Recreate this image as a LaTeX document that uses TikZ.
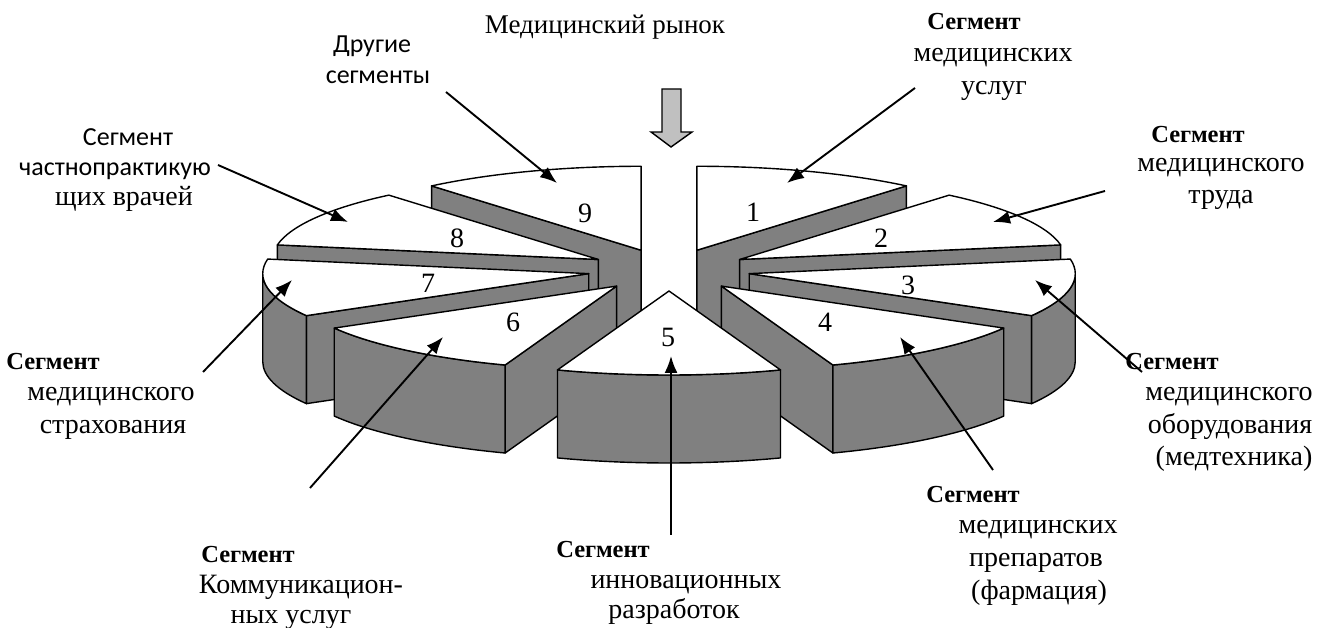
\documentclass[tikz,border=0pt]{standalone}
\usepackage{fontspec}
\setmainfont{Liberation Serif}
\newfontfamily\sansfam{Carlito}
\usetikzlibrary{arrows.meta,calc}
\definecolor{slabgrey}{HTML}{808080}
\definecolor{arrowgrey}{HTML}{C0C0C0}
\newcommand\setapex[3]{\pgfmathsetmacro\slabm{(#2+#3)/2}\coordinate (#1) at ($(C)+(\slabm:81.5pt and 21pt)$);}
\newcommand\radface[2]{\draw[sideface] (#1) -- ++(#2:326pt and 84pt) -- ++(0,-88) -- ($(#1)+(0,-88)$) -- cycle;}
\newcommand\outface[3]{\draw[sideface] ($(#1)+(#2:326pt and 84pt)$) arc[start angle=#2,end angle=#3,x radius=326pt,y radius=84pt] -- ++(0,-88) arc[start angle=#3,end angle=#2,x radius=326pt,y radius=84pt] -- cycle;}
\newcommand\topface[3]{\draw[topfc] (#1) -- ++(#2:326pt and 84pt) arc[start angle=#2,end angle=#3,x radius=326pt,y radius=84pt] -- cycle;}
\begin{document}
\begin{tikzpicture}[x=1pt,y=1pt,
  topfc/.style={fill=white,draw=black,line width=1.4pt,line join=round},
  sideface/.style={fill=slabgrey,draw=black,line width=1.4pt,line join=round},
  ptr/.style={-{Latex[length=17pt,width=13pt]},line width=1.9pt},
  txt/.style={font=\fontsize{28}{33}\selectfont,inner sep=0pt,anchor=base},
  ttxt/.style={font=\fontsize{27}{33}\selectfont,inner sep=0pt,anchor=base},
  btxt/.style={font=\fontsize{24.5}{33}\selectfont\bfseries,inner sep=0pt,anchor=base},
  stxt/.style={font=\fontsize{26}{33}\selectfont\sansfam,inner sep=0pt,anchor=base},
  num/.style={font=\fontsize{28}{33}\selectfont,inner sep=0pt}]
\useasboundingbox (0,0) rectangle (1321,628);
\coordinate (C) at (669,358);
% slab 9
\setapex{P9}{90}{130}
\radface{P9}{130}
\topface{P9}{90}{130}
% slab 1
\setapex{P1}{50}{90}
\radface{P1}{50}
\topface{P1}{50}{90}
% slab 8
\setapex{P8}{130}{170}
\radface{P8}{170}
\topface{P8}{130}{170}
% slab 2
\setapex{P2}{10}{50}
\radface{P2}{10}
\topface{P2}{10}{50}
% slab 7
\setapex{P7}{170}{210}
\radface{P7}{210}
\outface{P7}{180}{210}
\topface{P7}{170}{210}
% slab 3
\setapex{P3}{330}{370}
\radface{P3}{330}
\outface{P3}{330}{360}
\topface{P3}{330}{370}
% slab 6
\setapex{P6}{210}{250}
\radface{P6}{250}
\outface{P6}{210}{250}
\topface{P6}{210}{250}
% slab 4
\setapex{P4}{290}{330}
\radface{P4}{290}
\outface{P4}{290}{330}
\topface{P4}{290}{330}
% slab 5
\setapex{P5}{250}{290}
\outface{P5}{250}{290}
\topface{P5}{250}{290}
% numbers
\node[num] (n1) at (753,416) {1};
\node[num] (n2) at (881,390) {2};
\node[num] (n3) at (908,343) {3};
\node[num] (n4) at (825,306) {4};
\node[num] (n5) at (668,291) {5};
\node[num] (n6) at (513,306) {6};
\node[num] (n7) at (428,345) {7};
\node[num] (n8) at (457,390) {8};
\node[num] (n9) at (585,415) {9};
% top arrow
\draw[fill=arrowgrey,line width=1.4pt,line join=miter] (662,539) -- (681,539) -- (681,496) -- (692,496) -- (671,481) -- (651,496) -- (662,496) -- cycle;
% title
\node[ttxt] (title) at (605,594) {Медицинский рынок};
% labels
\node[stxt] (l9a) at (372,575) {Другие};
\node[stxt] (l9b) at (378,544) {сегменты};
\node[stxt] (l8a) at (128,482) {Сегмент};
\node[stxt] (l8b) at (115,452) {частнопрактикую};
\node[txt] (l8c) at (124,422) {щих врачей};
\node[btxt] (l1a) at (974,598) {Сегмент};
\node[txt] (l1b) at (993,566) {медицинских};
\node[txt] (l1c) at (994,533) {услуг};
\node[btxt] (l2a) at (1198,485) {Сегмент};
\node[txt] (l2b) at (1221,456) {медицинского};
\node[txt] (l2c) at (1221,424) {труда};
\node[btxt] (l3a) at (1172,258) {Сегмент};
\node[txt] (l3b) at (1229,227) {медицинского};
\node[txt] (l3c) at (1230,194) {оборудования};
\node[txt] (l3d) at (1234,162) {(медтехника)};
\node[btxt] (l4a) at (973,125) {Сегмент};
\node[txt] (l4b) at (1038,94) {медицинских};
\node[txt] (l4c) at (1036,61) {препаратов};
\node[txt] (l4d) at (1039,28) {(фармация)};
\node[btxt] (l5a) at (603,70) {Сегмент};
\node[txt] (l5b) at (686,39) {инновационных};
\node[txt] (l5c) at (674,9) {разработок};
\node[btxt] (l6a) at (248,65) {Сегмент};
\node[txt] (l6b) at (301,34) {Коммуникацион-};
\node[txt] (l6c) at (291,4) {ных услуг};
\node[btxt] (l7a) at (53,258) {Сегмент};
\node[txt] (l7b) at (111,227) {медицинского};
\node[txt] (l7c) at (113,194) {страхования};
% arrows
\coordinate (s1) at (915,540); \coordinate (t1) at (787,445);
\coordinate (s2) at (1105,437); \coordinate (t2) at (993,406);
\coordinate (s3) at (1142,256); \coordinate (t3) at (1035,348);
\coordinate (s4) at (993,158); \coordinate (t4) at (900,291);
\coordinate (s5) at (671,93); \coordinate (t5) at (671,272);
\coordinate (s6) at (310,140); \coordinate (t6) at (443,291);
\coordinate (s7) at (203,256); \coordinate (t7) at (292,348);
\coordinate (s8) at (218,463); \coordinate (t8) at (348,406);
\coordinate (s9) at (446,536); \coordinate (t9) at (557,445);
\foreach \i in {1,...,9} {\draw[ptr] (s\i) -- (t\i);}
\end{tikzpicture}
\end{document}
